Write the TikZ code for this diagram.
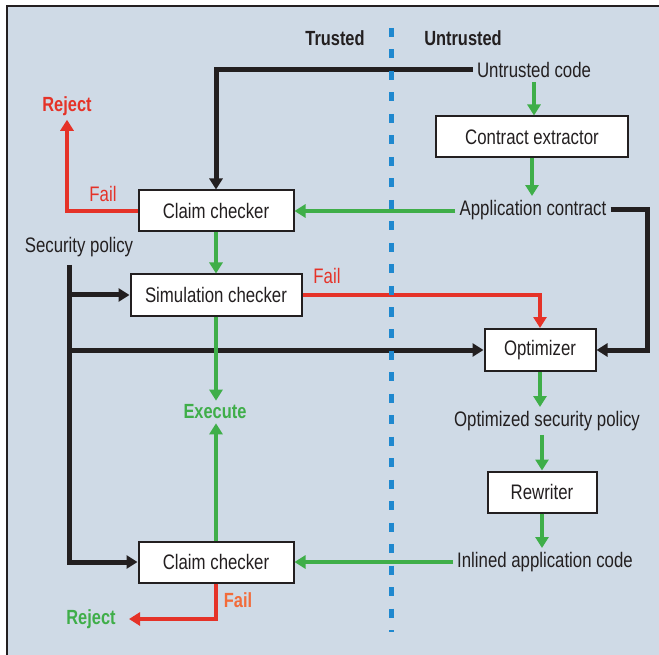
\documentclass[tikz,border=0pt]{standalone}
\usepackage{fontspec}
\setmainfont{Liberation Sans}[FakeStretch=0.8]
\usetikzlibrary{arrows.meta}
\definecolor{bgc}{HTML}{CFDAE6}
\definecolor{grn}{HTML}{3FAE49}
\definecolor{redc}{HTML}{E53228}
\definecolor{orc}{HTML}{F26B3A}
\definecolor{bluc}{HTML}{1F88CF}
\definecolor{blk}{HTML}{231F20}
\tikzset{
  every node/.style={font=\fontsize{21}{24}\selectfont, text=blk},
  box/.style={draw=blk, line width=2pt, fill=white, minimum height=41pt, inner sep=0pt},
  txt/.style={inner sep=4pt},
  lbl/.style={inner sep=4pt, font=\fontsize{20.5}{24}\selectfont\bfseries},
  tip/.style={-{Triangle[width=13pt,length=11pt]}},
  gline/.style={draw=grn, line width=4.6pt},
  rline/.style={draw=redc, line width=4.6pt},
  kline/.style={draw=blk, line width=5pt},
}
\begin{document}
\begin{tikzpicture}[x=1pt,y=-1pt]
\useasboundingbox (0,0) rectangle (659,655);
\fill[white] (0,0) rectangle (659,655);
\fill[bgc] (7,7) rectangle (659,655);
\draw[blk, line width=2pt] (6.5,655) -- (6.5,6.5) -- (659,6.5);

% texts
\node[lbl] (trusted) at (335,38) {Trusted};
\node[lbl] (untrusted) at (463,38) {Untrusted};
\node[txt] (uc) at (534,70) {Untrusted code};
\node[box, minimum width=192pt] (ce) at (532,137) {Contract extractor};
\node[txt] (ac) at (533,210) {Application contract};
\node[box, minimum width=155pt] (cc1) at (216,211) {Claim checker};
\node[lbl, text=redc] (rej1) at (67,106) {Reject};
\node[txt, text=redc] (fail1) at (103,194) {Fail};
\node[txt] (sp) at (79,247) {Security policy};
\node[box, minimum width=171pt] (sim) at (216,295) {Simulation checker};
\node[txt, text=redc] (fail2) at (327,276) {Fail};
\node[box, minimum width=111pt, minimum height=42pt] (opt) at (540,350) {Optimizer};
\node[lbl, text=grn] (exec) at (215,412) {Execute};
\node[txt] (osp) at (547,421) {Optimized security policy};
\node[box, minimum width=109pt] (rw) at (542,492) {Rewriter};
\node[txt] (inl) at (545,562) {Inlined application code};
\node[box, minimum width=155pt] (cc2) at (216,562) {Claim checker};
\node[lbl, text=grn] (rej2) at (91,619) {Reject};
\node[lbl, text=orc] (fail3) at (238,600) {Fail};

\coordinate (spTop) at (69,265);
\coordinate (br1) at (69,295);
\coordinate (br2) at (69,350);
\coordinate (acR) at (647,210);
\coordinate (rej2tip) at (129,619);

% black connectors
\draw[kline, tip] (uc.west) -| (cc1.north);
\draw[kline, tip] (spTop) |- (cc2.west);
\draw[kline, tip] (br1) -- (sim.west);
\draw[kline, tip] (br2) -- (opt.west);
\draw[kline, tip] (ac.east) -- (acR) |- (opt.east);

% green connectors
\draw[gline, tip] (uc.south) -- (uc.south |- ce.north);
\draw[gline, tip] (ce.south) -- (ce.south |- ac.north);
\draw[gline, tip] (ac.west |- cc1.east) -- (cc1.east);
\draw[gline, tip] (cc1.south) -- (sim.north);
\draw[gline, tip] (sim.south) -- (sim.south |- exec.north);
\draw[gline, tip] (cc2.north) -- (cc2.north |- exec.south);
\draw[gline, tip] (opt.south) -- (opt.south |- osp.north);
\draw[gline, tip] (rw.north |- osp.south) -- (rw.north);
\draw[gline, tip] (rw.south) -- (rw.south |- inl.north);
\draw[gline, tip] (inl.west |- cc2.east) -- (cc2.east);

% red connectors
\draw[rline, tip] (cc1.west) -| (rej1.south);
\draw[rline, tip] (sim.east) -| (opt.north);
\draw[rline, tip] (cc2.south) |- (rej2tip);

% trust boundary
\draw[bluc, line width=5pt, dash pattern=on 9pt off 12.5pt] (391,28) -- (391,632);
\end{tikzpicture}
\end{document}
